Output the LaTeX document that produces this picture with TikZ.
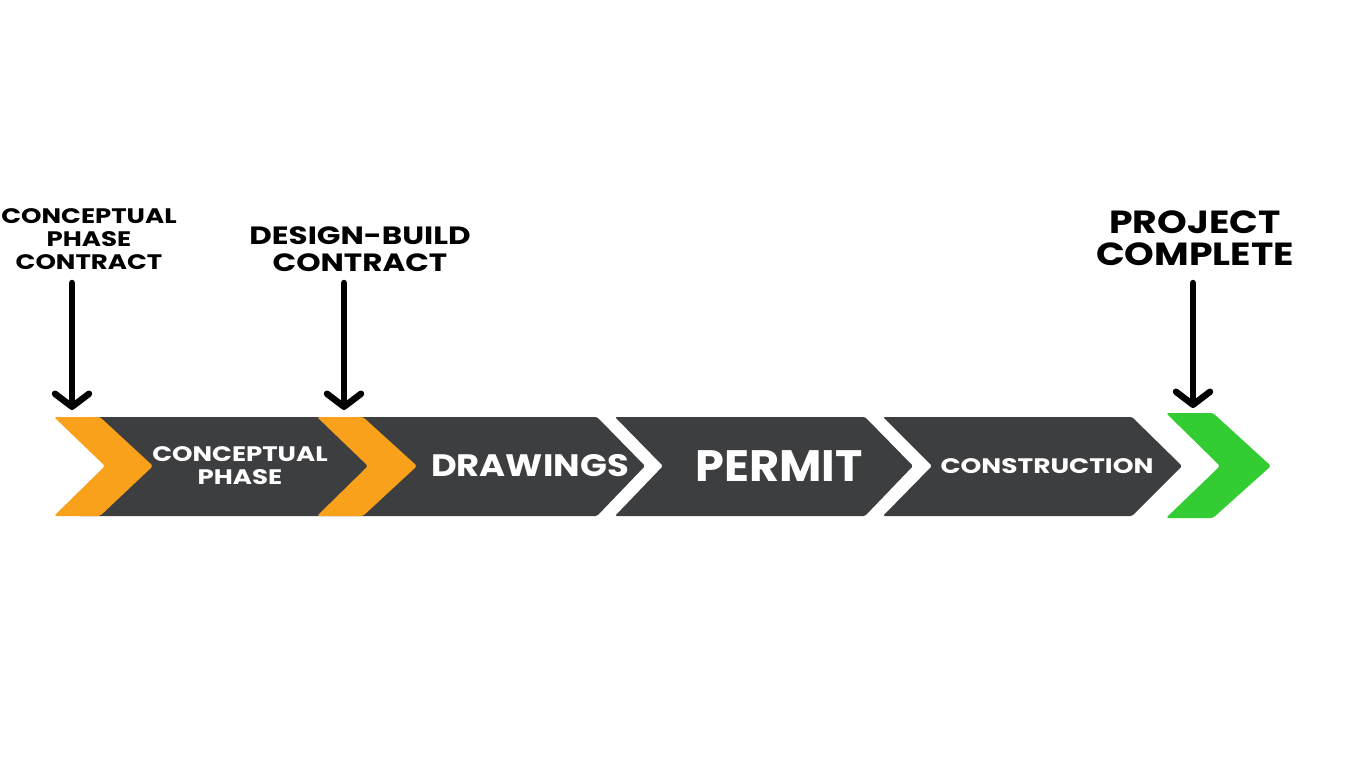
\documentclass[tikz,border=0pt]{standalone}
\usepackage{fontspec}
\setmainfont{Poppins}
\usepackage{xcolor}
\usepackage{tikz}
\usetikzlibrary{arrows.meta}

\definecolor{barGray}{HTML}{3D3E40}
\definecolor{stepOrange}{HTML}{F9A11B}
\definecolor{doneGreen}{HTML}{33CC33}

\begin{document}
\begin{tikzpicture}[
  x=1pt, y=-1pt,
  phase/.style={fill=barGray, rounded corners=1.5pt},
  chevron/.style={rounded corners=2.5pt},
  milestone/.style={line width=6.5pt, line cap=round,
    -{Straight Barb[length=13pt, width=34pt, round]}},
  toplabel/.style={align=center, text=black, inner sep=0pt},
  barlabel/.style={align=center, text=white, inner sep=0pt},
  every node/.style={font=\bfseries}
 ]
\useasboundingbox (0,0) rectangle (1366,768);

% gray phase bar
\path[phase] (78,417) -- (597,417) -- (645,466) -- (597,516) -- (78,516) -- (126,466) -- cycle;
\path[phase] (615,417) -- (865,417) -- (913,466) -- (865,516) -- (615,516) -- (663,466) -- cycle;
\path[phase] (883,417) -- (1132,417) -- (1182,466) -- (1132,516) -- (883,516) -- (932,466) -- cycle;

% milestone chevrons
\fill[chevron, stepOrange] (54,417) -- (100,417) -- (153,466) -- (100,516) -- (54,516) -- (105,466) -- cycle;
\fill[chevron, stepOrange] (317,417) -- (363,417) -- (417,466) -- (363,516) -- (317,516) -- (368,466) -- cycle;
\fill[chevron, doneGreen] (1166,413) -- (1213,413) -- (1271,466) -- (1213,518) -- (1166,518) -- (1220,466) -- cycle;

% phase names
\node[barlabel, font=\bfseries\fontsize{21}{23}\selectfont\addfontfeatures{FakeStretch=1.24}] (concept) at (240,466) {CONCEPTUAL\\PHASE};
\node[barlabel, font=\bfseries\fontsize{31}{33}\selectfont\addfontfeatures{FakeStretch=1.14}] (drawings) at (530,466) {DRAWINGS};
\node[barlabel, font=\bfseries\fontsize{44}{46}\selectfont\addfontfeatures{FakeStretch=1.05}] (permit) at (779,466) {PERMIT};
\node[barlabel, font=\bfseries\fontsize{21}{23}\selectfont\addfontfeatures{FakeStretch=1.26}] (build) at (1047,466) {CONSTRUCTION};

% milestone labels
\node[toplabel, font=\bfseries\fontsize{21}{23}\selectfont\addfontfeatures{FakeStretch=1.24}] (cpc) at (89,239) {CONCEPTUAL\\PHASE\\CONTRACT};
\node[toplabel, font=\bfseries\fontsize{25}{27}\selectfont\addfontfeatures{FakeStretch=1.24}] (dbc) at (360,249) {DESIGN-BUILD\\CONTRACT};
\node[toplabel, font=\bfseries\fontsize{32}{32}\selectfont\addfontfeatures{FakeStretch=1.18}] (done) at (1195,238) {PROJECT\\COMPLETE};

% milestone arrows
\coordinate (cpcTop) at (72,283);
\coordinate (cpcTip) at (72,410);
\coordinate (dbcTop) at (344,283);
\coordinate (dbcTip) at (344,410);
\coordinate (doneTop) at (1193,283);
\coordinate (doneTip) at (1193,408);
\draw[milestone] (cpcTop) -- (cpcTip);
\draw[milestone] (dbcTop) -- (dbcTip);
\draw[milestone] (doneTop) -- (doneTip);
\end{tikzpicture}
\end{document}
